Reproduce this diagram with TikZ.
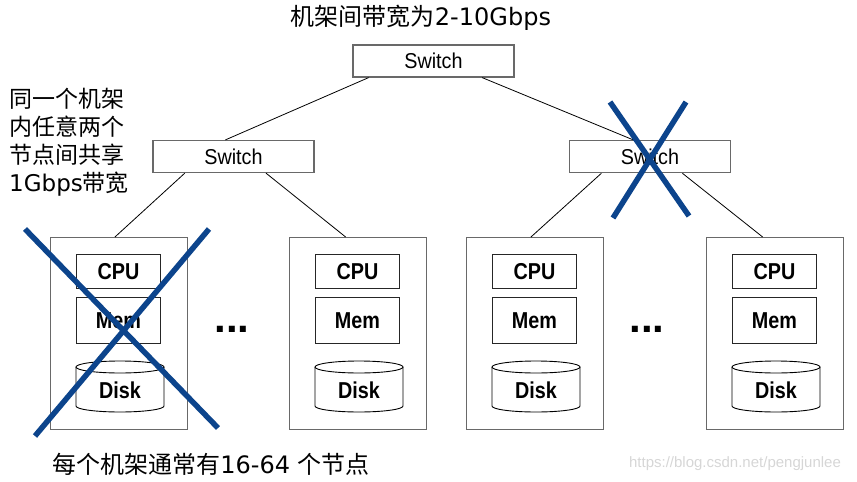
\documentclass[tikz,border=0pt]{standalone}
\usepackage{fontspec}
\setmainfont{DejaVu Sans}
\newfontfamily\cjk{Noto Sans CJK SC}
\newfontfamily\arialfont{Liberation Sans}
\newfontfamily\switchfont[FakeStretch=0.92]{Liberation Sans}
\newfontfamily\partfont[FakeStretch=0.86]{Liberation Sans}
\usetikzlibrary{calc}
\definecolor{boxgray}{RGB}{105,105,105}
\definecolor{crossblue}{RGB}{12,68,140}
\definecolor{markgray}{RGB}{214,214,214}

\begin{document}
\begin{tikzpicture}[x=1pt, y=-1pt,
    switchbox/.style={draw=boxgray, line width=1.2pt, minimum width=161pt, minimum height=32pt, inner sep=0pt, font=\switchfont\fontsize{21.5}{24}\selectfont},
    rackbox/.style={draw=boxgray, line width=1.2pt, minimum width=137pt, minimum height=192pt, inner sep=0pt},
    partbox/.style={draw=black!85, line width=0.9pt, minimum width=84pt, inner sep=0pt, font=\partfont\bfseries\fontsize{23}{26}\selectfont},
    partlabel/.style={font=\partfont\bfseries\fontsize{23}{26}\selectfont},
    dotsmark/.style={font=\arialfont\bfseries\fontsize{42}{42}\selectfont},
    wire/.style={line width=0.8pt},
    cross/.style={crossblue, line width=5.5pt},
    cjktext/.style={font=\fontsize{24}{28}\selectfont}]
    \useasboundingbox (0,0) rectangle (857,482);

    % Switches
    \node[switchbox] (swTop) at (433.5,61) {Switch};
    \node[switchbox] (swL) at (233.5,156.5) {Switch};
    \node[switchbox] (swR) at (650,156.7) {Switch};

    % Racks
    \foreach \r/\xl in {A/50,B/289,C/466,D/706} {
        \node[rackbox, anchor=north west] (rack\r) at (\xl,237) {};
        \node[partbox, minimum height=34pt, anchor=north west] (cpu\r) at (\xl+26,254) {CPU};
        \node[partbox, minimum height=46pt, anchor=north west] (mem\r) at (\xl+26,297) {Mem};
        \draw[line width=0.9pt] (\xl+70,367) ellipse [x radius=44, y radius=6];
        \draw[line width=0.9pt] (\xl+26,367) -- (\xl+26,406)
            arc[start angle=180, end angle=0, x radius=44, y radius=6] -- (\xl+114,367);
        \node[partlabel] (disk\r) at (\xl+70,390) {Disk};
    }
    \node[dotsmark] (dotsL) at (232,329) {...};
    \node[dotsmark] (dotsR) at (647,329) {...};

    % Links
    \draw[wire] ($(swTop.south west)!0.1!(swTop.south east)$) -- ($(swL.north west)!0.45!(swL.north east)$);
    \draw[wire] ($(swTop.south west)!0.8!(swTop.south east)$) -- ($(swR.north west)!0.4!(swR.north east)$);
    \draw[wire] ($(swL.south west)!0.2!(swL.south east)$) -- ($(rackA.north west)!0.47!(rackA.north east)$);
    \draw[wire] ($(swL.south west)!0.7!(swL.south east)$) -- ($(rackB.north west)!0.41!(rackB.north east)$);
    \draw[wire] ($(swR.south west)!0.2!(swR.south east)$) -- ($(rackC.north west)!0.47!(rackC.north east)$);
    \draw[wire] ($(swR.south west)!0.7!(swR.south east)$) -- ($(rackD.north west)!0.41!(rackD.north east)$);

    % Notes
    \node[cjktext] (title) at (421,18) {{\cjk 机架间带宽为}2-10Gbps};
    \node[cjktext, font=\fontsize{23}{28}\selectfont, align=left, anchor=west, inner sep=0pt] (note) at (9,142) {{\cjk 同一个机架}\\{\cjk 内任意两个}\\{\cjk 节点间共享}\\1Gbps{\cjk 带宽}};
    \node[cjktext] (count) at (211,464) {{\cjk 每个机架通常有}16-64 {\cjk 个节点}};
    \node[font=\arialfont\fontsize{15}{18}\selectfont, text=markgray] (mark) at (735,464) {https://blog.csdn.net/pengjunlee};

    % Failures
    \draw[cross] (25,229) -- (218,428);
    \draw[cross] (209,229) -- (35,436);
    \draw[cross] (610,102) -- (689,216);
    \draw[cross] (686,102) -- (613,218);
\end{tikzpicture}
\end{document}
